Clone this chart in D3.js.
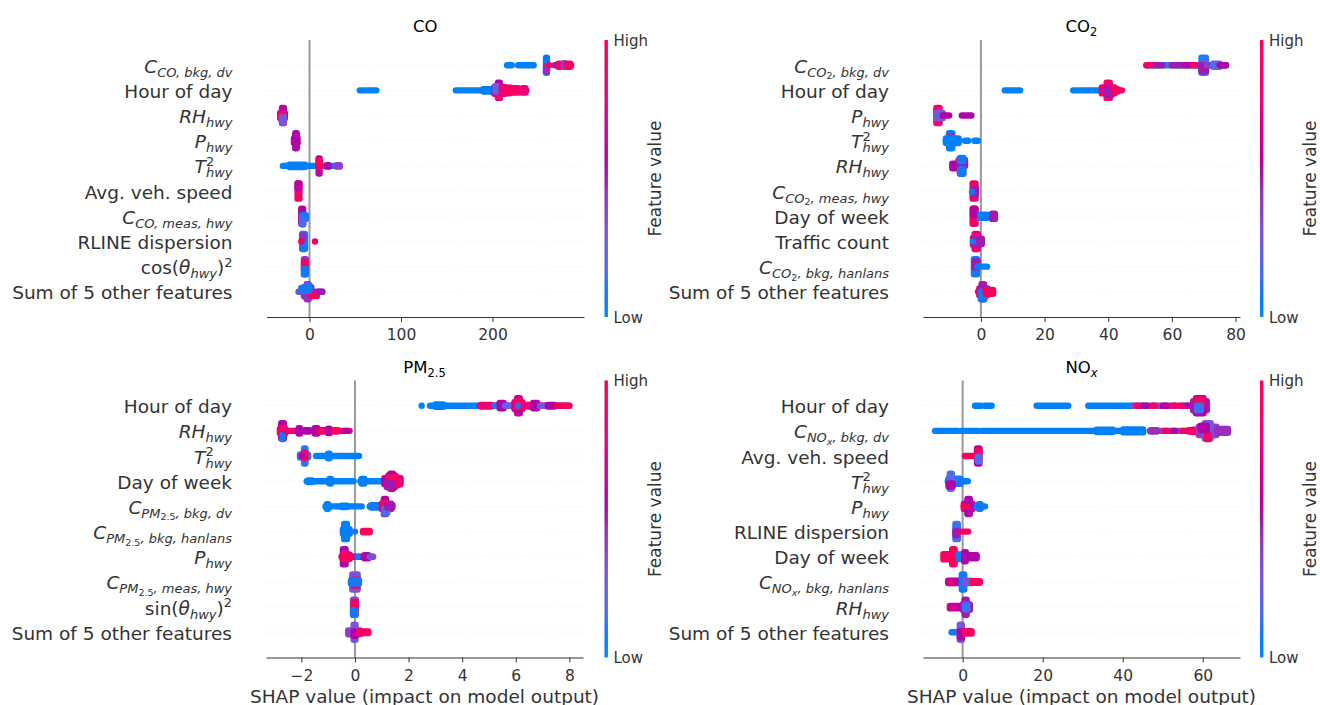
<!DOCTYPE html>
<html><head><meta charset="utf-8">
<script src="https://cdn.jsdelivr.net/npm/d3@7"></script>
<style>
html,body{margin:0;padding:0;background:#fff;}
svg{display:block;font-family:"DejaVu Sans",sans-serif;}
text{white-space:pre;}
</style></head>
<body><svg id="chart" width="1320" height="705"></svg>
<script>
// ---------------- DATA ----------------
// label parts: [text, style]  n=normal i=italic s=sub(italic) ss=subsub(italic) ssn=subsub upright p=superscript sb=sub stacked under superscript
const coTitle = [["CO","n"]];
const co2Title = [["CO","n"],["2","tsub"]];
const pmTitle = [["PM","n"],["2.5","tsub"]];
const noxTitle = [["NO","n"],["x","tsubi"]];

const coLabels = [
  [["C","i"],["CO, bkg, dv","s"]],
  [["Hour of day","n"]],
  [["RH","i"],["hwy","s"]],
  [["P","i"],["hwy","s"]],
  [["T","i"],["2","p"],["hwy","sb"]],
  [["Avg. veh. speed","n"]],
  [["C","i"],["CO, meas, hwy","s"]],
  [["RLINE dispersion","n"]],
  [["cos(","n"],["θ","i"],["hwy","s"],[")","n"],["2","p"]],
  [["Sum of 5 other features","n"]]
];
const co2Labels = [
  [["C","i"],["CO","s"],["2","ssn"],[", bkg, dv","s"]],
  [["Hour of day","n"]],
  [["P","i"],["hwy","s"]],
  [["T","i"],["2","p"],["hwy","sb"]],
  [["RH","i"],["hwy","s"]],
  [["C","i"],["CO","s"],["2","ssn"],[", meas, hwy","s"]],
  [["Day of week","n"]],
  [["Traffic count","n"]],
  [["C","i"],["CO","s"],["2","ssn"],[", bkg, hanlans","s"]],
  [["Sum of 5 other features","n"]]
];
const pmLabels = [
  [["Hour of day","n"]],
  [["RH","i"],["hwy","s"]],
  [["T","i"],["2","p"],["hwy","sb"]],
  [["Day of week","n"]],
  [["C","i"],["PM","s"],["2.5","ssn"],[", bkg, dv","s"]],
  [["C","i"],["PM","s"],["2.5","ssn"],[", bkg, hanlans","s"]],
  [["P","i"],["hwy","s"]],
  [["C","i"],["PM","s"],["2.5","ssn"],[", meas, hwy","s"]],
  [["sin(","n"],["θ","i"],["hwy","s"],[")","n"],["2","p"]],
  [["Sum of 5 other features","n"]]
];
const noxLabels = [
  [["Hour of day","n"]],
  [["C","i"],["NO","s"],["x","ss"],[", bkg, dv","s"]],
  [["Avg. veh. speed","n"]],
  [["T","i"],["2","p"],["hwy","sb"]],
  [["P","i"],["hwy","s"]],
  [["RLINE dispersion","n"]],
  [["Day of week","n"]],
  [["C","i"],["NO","s"],["x","ss"],[", bkg, hanlans","s"]],
  [["RH","i"],["hwy","s"]],
  [["Sum of 5 other features","n"]]
];

// axis limits and ticks
const coDomain = [-47, 300],   coTicks = [0, 100, 200];
const co2Domain = [-18.2, 81.4], co2Ticks = [0, 20, 40, 60, 80];
const pmDomain = [-3.32, 8.51], pmTicks = [-2, 0, 2, 4, 6, 8];
const noxDomain = [-9.9, 69.3], noxTicks = [0, 20, 40, 60];

// beeswarm clusters: [row, shapFrom, shapTo, stackSpread(0..1), featureValue(0 low..1 high), stackOffset]
const coMarks = [
  [0,216,221,0,0.05],[0,228,245,0,0.05],[0,258.5,259.5,1,0.08],[0,258.5,259.5,0.3,0.45,0.55],[0,262,262,0,0.95],
  [0,268,286,0,0.5],[0,272,274,0.2,0.95],[0,278,279,0.25,0.4],[0,282,285,0.2,0.95],
  [1,55,61,0,0.05],[1,64,73,0,0.05],[1,160,201,0,0.05],[1,190,200,0.15,0.08],
  [1,202,213,0.45,0.7],[1,206,208,1,0.55],[1,206,208,0.6,0.95,0.3],[1,203,205,0.35,0.25,-0.2],[1,210,214,0.4,0.85],
  [1,214,237,0,0.6],[1,216,220,0.35,0.95],[1,224,228,0.3,0.9],[1,233,236,0.3,0.85],
  [2,-32,-27,0.35,0.6],[2,-30,-28,1,0.55],[2,-32,-28,0.25,0.95],[2,-30,-28,0.4,0.3,0.6],
  [3,-17,-13,0.3,0.75],[3,-15.5,-14,1,0.55],
  [4,-29,33,0,0.05],[4,-22,-5,0.15,0.05],[4,10,11,1,0.55],[4,10,11,0.45,0.95,-0.3],[4,19,21,0.1,0.55],[4,30,33,0.1,0.4],
  [5,-13,-11,1,0.92],[5,-13,-11,0.3,0.6,-0.7],
  [6,-9,-7,1,0.55],[6,-8,-4,0.25,0.1,0.1],[6,-8,-7,0.4,0.15,0.7],
  [7,-8,-5,1,0.1],[7,-8,-7,0.2,0.45,-0.6],[7,-9,-9,0,0.95],[7,6,6,0,0.95],
  [8,-6,-4,1,0.45],[8,-6,-4,0.4,0.95,-0.2],[8,-6,-4,0.35,0.1,0.65],
  [9,-12,14,0,0.3],[9,-6,2,0.6,0.45],[9,-3,-1,1,0.45],[9,2,8,0.25,0.95,0.3],[9,-9,-4,0.2,0.1,-0.3],[9,10,14,0,0.5],[9,-2,0,0.35,0.1,-0.5]
];
const co2Marks = [
  [0,52,77,0,0.12],[0,52,54,0,0.95],[0,55,57,0,0.5],[0,60,63,0,0.5],[0,64,66,0,0.55],[0,66.5,68.5,0,0.95],
  [0,69.3,70.7,1,0.12],[0,69.3,70.7,0.4,0.5,0.4],[0,71,77,0,0.4],[0,73,75,0.2,0.2],[0,75,77,0,0.55],
  [1,7.5,12.3,0,0.05],[1,29,39,0,0.05],[1,38,42,0.4,0.85],[1,39.5,40.5,1,0.9],[1,39.5,41,0.4,0.5,0.2],[1,41.5,44.3,0,0.8],[1,42,43,0.15,0.95],
  [2,-14,-13,1,0.9],[2,-14,-12,0.35,0.3],[2,-12,-10,0,0.55],[2,-6,-3,0,0.55],
  [3,-11,-7,0,0.05],[3,-10,-9,1,0.05],[3,-10,-9,0.3,0.45,-0.3],[3,-11,-7,0.3,0.05],[3,-5,-4,0,0.05],[3,-2,-1,0,0.05],
  [4,-9,-7,0.3,0.55],[4,-6.6,-5.6,1,0.9],[4,-7,-5,0.4,0.5,-0.4],[4,-6.5,-5.5,0.3,0.1,0.75],[4,-6.5,-5.5,0.2,0.1,-0.85],
  [5,-2.6,-1.7,1,0.9],[5,-2.5,-1.5,0.4,0.5,0.1],[5,-2.8,-2.8,0,0.1,0.1],
  [6,-2.6,-1.7,1,0.9],[6,-2.5,-1.8,0.4,0.55,-0.6],[6,-0.3,1.9,0.2,0.05],[6,3.5,4.4,0.35,0.5],
  [7,-2.5,-0.5,0.45,0.85],[7,-2,-1,1,0.85],[7,-2,0.3,0.35,0.5],[7,-2.5,-2.5,0,0.1],
  [8,-2.2,-1.2,1,0.1],[8,-2,-1,0.4,0.5,-0.3],[8,-1,1.9,0,0.05],
  [9,-0.9,3.8,0,0.9],[9,-0.5,2,0.45,0.8],[9,0.2,1,1,0.5],[9,0,1,0.5,0.1,0.5],[9,1.5,3.8,0.25,0.95]
];
const pmMarks = [
  [0,2.49,2.49,0,0.05],[0,2.8,4.66,0,0.05],[0,3.0,3.3,0.15,0.05],[0,4.66,8.0,0,0.5],
  [0,4.7,5.1,0.1,0.85],[0,5.2,5.3,0,0.1],[0,5.4,5.55,0.35,0.55],[0,5.6,5.9,0,0.25],
  [0,5.95,6.25,0.45,0.7],[0,6.05,6.15,1,0.6],[0,6.05,6.15,0.45,0.95,-0.2],[0,6.1,6.1,0,0.1],[0,6.3,6.6,0.1,0.85],
  [0,6.65,6.8,0.35,0.55],[0,6.9,7.15,0,0.3],[0,7.2,7.45,0.1,0.55],[0,7.55,8.0,0,0.95],
  [1,-2.75,-2.65,1,0.55],[1,-2.8,-2.6,0.3,0.95],[1,-2.7,-2.7,0.3,0.1,0.8],[1,-2.6,-0.2,0,0.8],
  [1,-2.1,-2.05,0.35,0.55],[1,-1.85,-1.7,0.1,0.55],[1,-1.5,-1.4,0.35,0.55],[1,-1.3,-1.1,0.1,0.95],
  [1,-1.0,-0.95,0.3,0.55],[1,-0.8,-0.65,0.1,0.95],[1,-0.35,-0.3,0,0.55],
  [2,-2.05,-1.75,0.2,0.15],[2,-1.9,-1.85,1,0.12],[2,-1.9,-1.85,0.35,0.9,-0.1],[2,-2.0,-2.0,0,0.55],
  [2,-1.45,0.15,0,0.05],[2,-1.0,-0.95,0.3,0.05],
  [3,-1.8,-0.05,0,0.05],[3,-0.95,-0.9,0.3,0.05],[3,-1.75,-1.6,0.1,0.05],[3,0.2,1.05,0,0.05],[3,0.25,0.35,0.3,0.05],
  [3,1.1,1.7,0.4,0.6],[3,1.25,1.5,0.75,0.75],[3,1.32,1.42,1,0.6],[3,1.3,1.6,0.5,0.95],[3,1.2,1.4,0.3,0.5,0.5],
  [4,-1.1,0.25,0,0.05],[4,-1.05,-1.0,0.3,0.05],[4,-0.5,-0.3,0.1,0.05],[4,0.55,1.05,0,0.05],[4,0.6,0.9,0.15,0.1],
  [4,1.0,1.35,0.35,0.5],[4,1.08,1.16,1,0.55],[4,1.05,1.15,0.35,0.95,-0.1],[4,1.1,1.2,0.3,0.15,0.6],[4,1.2,1.4,0.15,0.5],
  [5,-0.45,-0.2,0.3,0.1],[5,-0.4,-0.3,1,0.05],[5,0,0,0,0.1],[5,0.3,0.55,0.1,0.95],
  [6,-0.5,0.65,0,0.6],[6,-0.45,-0.35,1,0.55],[6,-0.45,-0.2,0.3,0.95],[6,0.1,0.1,0,0.1],[6,0.35,0.5,0.2,0.55],[6,0.55,0.68,0,0.35],
  [7,-0.1,0.1,1,0.3],[7,-0.05,0.1,0.4,0.95,0.1],[7,-0.15,0.15,0.2,0.1],
  [8,-0.07,0.03,1,0.4],[8,-0.05,0.03,0.35,0.95,-0.3],[8,-0.07,0.0,0.3,0.1,0.7],
  [9,-0.25,0.2,0.25,0.4],[9,-0.05,0.02,1,0.3],[9,-0.05,0.02,0.3,0.55,0.2],[9,0.15,0.5,0.1,0.95]
];
const noxMarks = [
  [0,3.1,4.5,0,0.05],[0,5.5,7.25,0,0.05],[0,18.5,26.4,0,0.05],[0,31.4,42.7,0,0.05],[0,42.7,57.6,0,0.35],
  [0,43.5,44,0,0.95],[0,45,46,0,0.55],[0,47.5,48,0,0.95],[0,50,51,0,0.6],[0,52.5,53,0,0.95],[0,54.5,55,0,0.95],[0,56,57,0,0.55],
  [0,57.6,61,0.6,0.5],[0,58.3,60.2,1,0.55],[0,58.3,60,0.4,0.95,-0.4],[0,58.5,59.5,0.3,0.15,0.3],
  [1,-6.9,-1.1,0,0.05],[1,-0.25,3.9,0,0.05],[1,4.75,39.3,0,0.05],[1,33.5,37.5,0.15,0.05],[1,40.1,45.1,0.2,0.05],
  [1,46.8,58.8,0,0.4],[1,47,48.5,0.1,0.45],[1,50.5,51,0,0.95],[1,52.5,53,0,0.55],[1,55,55.5,0,0.95],[1,56.5,57,0.1,0.85],[1,57.5,58.8,0.15,0.95],
  [1,59,63.4,0.55,0.4],[1,60.5,62,1,0.3],[1,61,61.5,0.3,0.95,0.8],[1,59.5,61,0.3,0.55,-0.4],[1,63.5,66.3,0.25,0.45],
  [2,0.6,3.5,0,0.95],[2,3.6,4.2,1,0.55],[2,3.7,4.2,0.4,0.95,-0.3],[2,3.8,4.2,0.3,0.2,0.4],
  [3,-3.7,1.3,0,0.05],[3,-3.5,-0.5,0.35,0.1],[3,-3.2,-2.7,1,0.2],[3,-3.5,-2.5,0.2,0.55,0.5],
  [4,0.3,2.5,0.35,0.85],[4,1.2,1.8,1,0.55],[4,0.3,1,0,0.95],[4,3.5,5.6,0,0.1],[4,4,4.5,0.3,0.1],
  [5,-1.8,-1.2,1,0.15],[5,-1.8,-1.3,0.3,0.5,0.2],[5,-0.25,1.4,0,0.95],
  [6,-4.8,-1.5,0.35,0.95],[6,-2.6,-2.0,1,0.95],[6,-1,0.3,0.3,0.1],[6,0.4,0.8,0.6,0.55],[6,0.8,3.5,0.2,0.55],
  [7,-3.6,-0.5,0.15,0.55],[7,-3,-3,0,0.9],[7,-0.2,0.4,1,0.1],[7,0.5,2,0.15,0.3],[7,2.5,4.3,0.1,0.95],
  [8,-3.2,-0.5,0.15,0.65],[8,0,1.8,0.35,0.5],[8,0.5,1,1,0.5],[8,0.6,1.2,0.3,0.15],
  [9,-2.75,-1,0,0.1],[9,-0.7,-0.2,1,0.3],[9,-0.7,-0.2,0.4,0.55,0.3],[9,0.6,2.25,0.15,0.95]
];

// ---------------- RENDER ----------------
const svg = d3.select("#chart");
svg.append("rect").attr("width",1320).attr("height",705).attr("fill","#fff");

// SHAP red_blue colormap: LCH blend with darker middle lightness
function color(t) {
  const l = t < 0.5 ? 54 + (40 - 54) * (t / 0.5) : 40 + (54 - 40) * ((t - 0.5) / 0.5);
  const c = 70 + (90 - 70) * t;
  const h = 266.93 + (380.32 - 266.93) * t;
  return d3.hcl(h % 360, c, l).formatHex();
}
const TXT = "#333333";

// gradient for colorbars
const grad = svg.append("defs").append("linearGradient").attr("id","cbgrad")
  .attr("x1",0).attr("y1",1).attr("x2",0).attr("y2",0);
d3.range(0, 1.0001, 0.05).forEach(t => grad.append("stop").attr("offset", t).attr("stop-color", color(t)));

const STY = {
  n:{size:18.5,it:false,off:0}, i:{size:18.5,it:true,off:0},
  s:{size:13,it:true,off:4}, ss:{size:9.5,it:true,off:6.5}, ssn:{size:9.5,it:false,off:6.5},
  p:{size:13,it:false,off:-7.5}, sb:{size:13,it:true,off:4,back:true},
  tsub:{size:11.5,it:false,off:4}, tsubi:{size:11.5,it:true,off:4}
};
function richText(g, parts, x, y, anchor, baseSize) {
  const t = g.append("text").attr("x", x).attr("y", y).attr("text-anchor", anchor).attr("fill", TXT);
  let cur = 0, prev = null;
  parts.forEach(([str, st]) => {
    const s = STY[st];
    let size = s.size;
    if (baseSize && (st === "n")) size = baseSize;
    const ts = t.append("tspan").text(str).attr("font-size", size)
      .attr("font-style", s.it ? "italic" : "normal").attr("dy", s.off - cur);
    if (s.back && prev) ts.attr("dx", -prev.node().getComputedTextLength());
    cur = s.off; prev = ts;
  });
  return t;
}

const panels = [
  {title:coTitle, labels:coLabels, marks:coMarks, domain:coDomain, ticks:coTicks, left:266.5, right:584, top:40, bottom:317, cb:604.5, xlabel:false},
  {title:co2Title, labels:co2Labels, marks:co2Marks, domain:co2Domain, ticks:co2Ticks, left:923, right:1240, top:40, bottom:317, cb:1260, xlabel:false},
  {title:pmTitle, labels:pmLabels, marks:pmMarks, domain:pmDomain, ticks:pmTicks, left:266, right:583, top:380.5, bottom:657.5, cb:604.5, xlabel:true},
  {title:noxTitle, labels:noxLabels, marks:noxMarks, domain:noxDomain, ticks:noxTicks, left:923, right:1240, top:380.5, bottom:657.5, cb:1260, xlabel:true}
];

panels.forEach(p => {
  const g = svg.append("g");
  const x = d3.scaleLinear().domain(p.domain).range([p.left, p.right]);
  const y = d3.scaleLinear().domain([-1, p.labels.length]).range([p.bottom, p.top]);
  const step = y(0) - y(1);
  const rowY = i => y(p.labels.length - 1 - i);
  const H = 0.3 * step, r = 3.2;

  // dotted row guides
  p.labels.forEach((l, i) => {
    g.append("line").attr("x1", p.left).attr("x2", p.right).attr("y1", rowY(i)).attr("y2", rowY(i))
      .attr("stroke", "#cccccc").attr("stroke-width", 0.7).attr("stroke-dasharray", "0.7 3.5");
  });
  // zero line
  g.append("line").attr("x1", x(0)).attr("x2", x(0)).attr("y1", p.top).attr("y2", p.bottom)
    .attr("stroke", "#999999").attr("stroke-width", 2);

  // beeswarm clusters
  g.append("g").selectAll("rect").data(p.marks).join("rect")
    .attr("x", d => x(d[1]) - r)
    .attr("width", d => x(d[2]) - x(d[1]) + 2 * r)
    .attr("y", d => rowY(d[0]) + (d[5] || 0) * H - d[3] * H - r)
    .attr("height", d => 2 * d[3] * H + 2 * r)
    .attr("rx", r).attr("ry", r)
    .attr("fill", d => color(d[4]));

  // feature labels
  p.labels.forEach((l, i) => richText(g, l, p.left - 34, rowY(i) + 7.5, "end"));

  // x axis
  const ax = g.append("g").attr("transform", `translate(0,${p.bottom})`)
    .call(d3.axisBottom(x).tickValues(p.ticks).tickSizeOuter(0).tickSizeInner(5).tickPadding(7));
  ax.select(".domain").attr("stroke", "#333333").attr("stroke-width", 1);
  ax.selectAll(".tick line").attr("stroke", "#333333").attr("stroke-width", 1);
  ax.selectAll(".tick text").attr("font-size", 15.5).attr("fill", TXT).attr("font-family", "DejaVu Sans");

  if (p.xlabel) {
    g.append("text").attr("x", (p.left + p.right) / 2).attr("y", 703).attr("text-anchor", "middle")
      .attr("font-size", 18.5).attr("fill", TXT).text("SHAP value (impact on model output)");
  }
  // title
  richText(g, p.title, (p.left + p.right) / 2, p.top - 8, "middle", 16.5).attr("fill", "#000");

  // colorbar
  g.append("rect").attr("x", p.cb).attr("y", p.top).attr("width", 3.4).attr("height", p.bottom - p.top)
    .attr("fill", "url(#cbgrad)");
  g.append("text").attr("x", p.cb + 9).attr("y", p.top + 5.5).attr("font-size", 15).attr("fill", TXT).text("High");
  g.append("text").attr("x", p.cb + 9).attr("y", p.bottom + 5.5).attr("font-size", 15).attr("fill", TXT).text("Low");
  g.append("text").attr("transform", `translate(${p.cb + 56},${(p.top + p.bottom) / 2}) rotate(-90)`)
    .attr("text-anchor", "middle").attr("font-size", 17).attr("fill", TXT).text("Feature value");
});
</script></body></html>
